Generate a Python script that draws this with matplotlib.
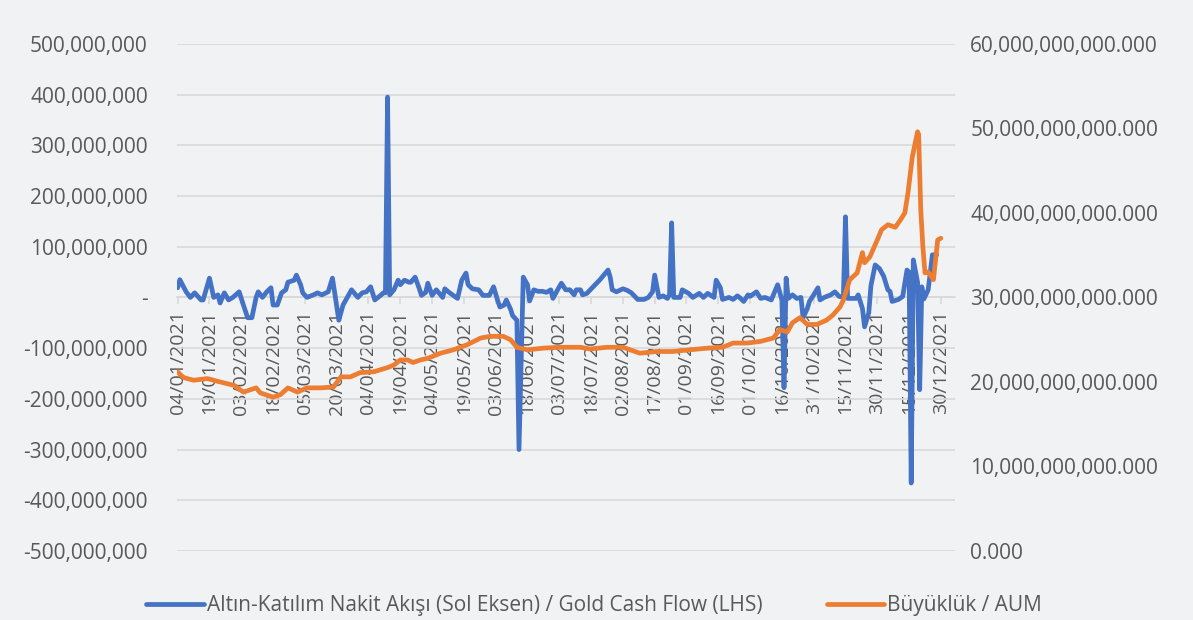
import numpy as np
import pandas as pd
import matplotlib
matplotlib.use("Agg")
import matplotlib.pyplot as plt
import matplotlib.dates as mdates
from matplotlib.ticker import FuncFormatter, FixedLocator

# ---------------- data ----------------
start_date = "2021-01-04"

# Gold cash flow (left axis), millions TRY; day offsets from 04/01/2021
flow_day = [0, 1, 4, 6, 8, 11, 12, 15, 17, 19, 20, 22, 24, 26, 29, 31, 33, 35, 37, 38,
            40, 42, 44, 45, 47, 49, 51, 52, 55, 56, 58, 59, 61, 64, 66, 68, 71, 73, 74, 76,
            78, 80, 82, 85, 87, 89, 91, 93, 96, 97, 98, 99, 100, 102, 104, 105, 107, 109, 110, 112,
            114, 115, 117, 118, 120, 122, 123, 125, 126, 128, 130, 132, 134, 136, 137, 139, 142, 144, 147, 149,
            151, 152, 154, 155, 157, 158, 160, 161, 163, 165, 166, 168, 170, 172, 174, 176, 177, 180, 181, 183,
            185, 187, 188, 190, 191, 193, 196, 199, 203, 204, 205, 207, 210, 212, 214, 217, 220, 222, 224, 225,
            227, 229, 231, 232, 233, 234, 237, 238, 241, 243, 246, 248, 250, 253, 254, 256, 257, 260, 262, 264,
            265, 267, 269, 270, 271, 273, 275, 277, 280, 282, 283, 285, 286, 287, 288, 290, 292, 294, 295, 297,
            298, 300, 302, 303, 305, 308, 310, 312, 314, 315, 316, 317, 320, 321, 323, 324, 326, 327, 329, 331,
            333, 335, 336, 337, 340, 342, 344, 345, 346, 347, 349, 350, 351, 352, 354, 356, 358]
flow_val = [19, 35, 11, 0, 9, -5, -5, 38, 0, 5, -11, 9, -5, 0, 11, -15, -40, -40, 0, 11,
            0, 11, 19, -15, -15, 9, 15, 30, 34, 44, 25, 9, 0, 5, 9, 5, 11, 38, 11, -45,
            -15, 0, 15, 0, 9, 11, 21, -5, 5, 9, 9, 395, 5, 15, 34, 25, 34, 30, 30, 40,
            17, 4, 10, 28, 4, 15, 10, 0, 17, 10, 4, -2, 34, 48, 25, 17, 15, 4, 4, 21,
            -7, -19, -15, -5, -23, -36, -45, -300, 40, 25, -7, 15, 12, 12, 10, 15, -2, 21, 28, 15,
            15, 5, 15, 15, 5, 8, 21, 34, 54, 40, 15, 11, 17, 14, 9, -4, -4, 0, 11, 44,
            0, 3, -2, 5, 147, 0, 0, 15, 8, 0, 8, 0, 8, 0, 34, 19, -4, 0, -4, 3,
            0, -8, 5, 2, 5, 11, -2, 0, -5, 15, 25, -5, -178, 38, -2, 5, -2, 0, -40, -22,
            -8, 5, 19, -5, 0, 5, 11, 2, 0, 159, -2, -2, -2, 5, -22, -58, -30, 23, 64, 57,
            42, 15, 12, -8, -4, 2, 54, 50, -366, 74, 30, -182, 21, -3, 15, 84, 84]

# AUM (right axis), billions TRY
aum_day = [0, 1.5, 3, 7.5, 14, 20, 26.5, 31, 37, 39, 45, 48.5, 52, 56.5, 61, 67.5, 73.5, 77, 81.5, 86,
           92.5, 99, 102, 105, 108.5, 111, 114.5, 118, 124, 130, 136.5, 143, 147.5, 153.5, 157, 160, 165, 172.5, 180.5, 190,
           194.5, 202.5, 210, 218, 226, 233.5, 241.5, 250, 257, 262, 268.5, 275, 281, 284, 287.5, 290, 293.5, 297, 301.5, 306,
           309, 312.5, 314, 317, 320.5, 323, 324, 326.5, 330, 332, 335, 338.5, 341, 343, 344.5, 346.5, 349, 349.5, 350.5, 351.5,
           352.5, 354, 356.5, 358.5, 360]
aum_val = [21.2, 20.8, 20.5, 20.2, 20.4, 20.0, 19.6, 18.8, 19.3, 18.7, 18.2, 18.5, 19.3, 18.8, 19.3, 19.3, 19.4, 20.6, 20.6, 21.1,
           21.2, 21.7, 22.0, 22.6, 22.6, 22.3, 22.6, 22.8, 23.4, 23.8, 24.4, 25.2, 25.4, 25.4, 25.0, 24.1, 23.8, 24.0, 24.1, 24.1,
           23.9, 24.1, 24.1, 23.4, 23.6, 23.6, 23.8, 24.0, 24.1, 24.6, 24.6, 24.8, 25.2, 26.2, 25.9, 27.0, 27.6, 26.8, 26.8, 27.3,
           27.9, 28.9, 29.7, 32.1, 32.9, 35.3, 34.1, 34.8, 36.8, 38.0, 38.6, 38.3, 39.2, 40.0, 42.4, 46.6, 49.6, 49.3, 40.4, 36.0,
           32.9, 33.0, 32.1, 36.8, 37.0]

tick_every_days = 15
n_ticks = 25

left_ticks = [-500, -400, -300, -200, -100, 0, 100, 200, 300, 400, 500]   # millions
right_ticks = [0, 10, 20, 30, 40, 50, 60]                                 # billions

legend_labels = ["Altın-Katılım Nakit Akışı (Sol Eksen) / Gold Cash Flow (LHS)", "Büyüklük / AUM"]

# ---------------- plot ----------------
base = pd.Timestamp(start_date)
flow_dates = base + pd.to_timedelta(np.array(flow_day, dtype=float), unit="D")
aum_dates = base + pd.to_timedelta(np.array(aum_day, dtype=float), unit="D")

BLUE = "#4472C4"
ORANGE = "#ED7D31"
TXT = "#595959"
GRID = "#D9D9D9"
FONT = "Open Sans"
FS = 15
FSX = 14

fig = plt.figure(figsize=(11.93, 6.20), dpi=100)
fig.patch.set_facecolor("#F1F2F4")
ax = fig.add_axes([0.1484, 0.1113, 0.652, 0.818])
ax.set_facecolor("none")
ax2 = ax.twinx()
ax2.set_facecolor("none")

l1, = ax.plot(flow_dates, np.array(flow_val) * 1e6, color=BLUE, lw=3.4,
              solid_joinstyle="round", solid_capstyle="round", zorder=3)
l2, = ax2.plot(aum_dates, np.array(aum_val) * 1e9, color=ORANGE, lw=3.4,
               solid_joinstyle="round", solid_capstyle="round", zorder=3)

ax.set_ylim(-500e6, 500e6)
ax2.set_ylim(0, 60e9)
x0 = mdates.date2num(base)
ax.set_xlim(x0 - 0.3, x0 + 366.6)

ax.yaxis.set_major_locator(FixedLocator([v * 1e6 for v in left_ticks]))
ax2.yaxis.set_major_locator(FixedLocator([v * 1e9 for v in right_ticks]))
ax.yaxis.set_major_formatter(FuncFormatter(lambda v, p: "-" if abs(v) < 1 else f"{v:,.0f}"))
ax2.yaxis.set_major_formatter(FuncFormatter(lambda v, p: f"{v:,.3f}"))

xt = [x0 + tick_every_days * i for i in range(n_ticks)]
ax.xaxis.set_major_locator(FixedLocator(xt))
ax.xaxis.set_major_formatter(mdates.DateFormatter("%d/%m/%Y"))

ax.grid(axis="y", color=GRID, lw=1.2)
ax.set_axisbelow(True)
for s in ["top", "left", "right"]:
    ax.spines[s].set_visible(False)
    ax2.spines[s].set_visible(False)
ax2.spines["bottom"].set_visible(False)
ax.spines["bottom"].set_position(("data", 0))
ax.spines["bottom"].set_color(GRID)
ax.spines["bottom"].set_linewidth(1.2)

ax.tick_params(axis="y", length=0, pad=21, labelsize=FS, labelcolor=TXT)
ax2.tick_params(axis="y", length=0, pad=11, labelsize=FS, labelcolor=TXT)
ax.tick_params(axis="x", length=5, width=1.2, color=GRID, pad=4.5, labelsize=FSX,
               labelcolor=TXT, labelrotation=90)
for lab in ax.get_xticklabels() + ax.get_yticklabels() + ax2.get_yticklabels():
    lab.set_fontfamily(FONT)
for lab in ax.get_xticklabels():
    lab.set_verticalalignment("top")
    lab.set_horizontalalignment("center")

leg = fig.legend([l1, l2], legend_labels, loc="lower center", bbox_to_anchor=(0.498, -0.024),
                 ncol=2, frameon=False, handlelength=2.75, handletextpad=0.15, columnspacing=3.1,
                 prop={"family": FONT, "size": FS})
for t in leg.get_texts():
    t.set_color(TXT)

fig.savefig("out.png", dpi=100, facecolor=fig.get_facecolor())
